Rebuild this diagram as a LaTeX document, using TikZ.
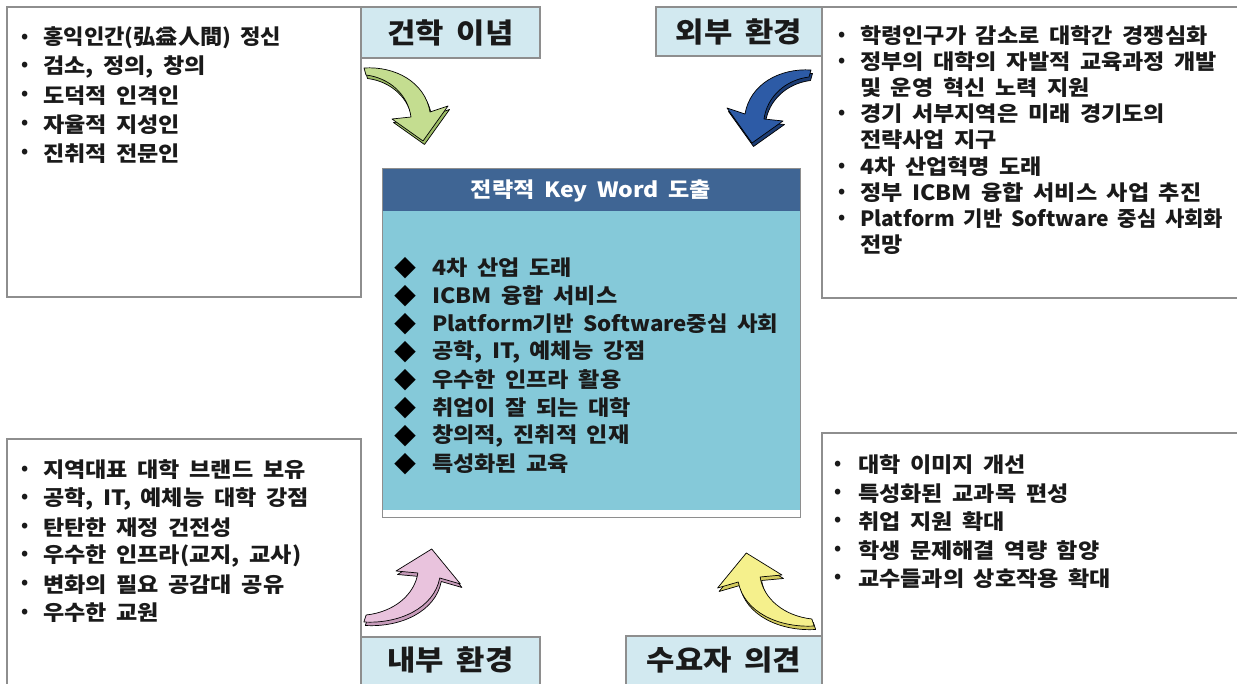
\documentclass[tikz,border=0pt]{standalone}
\usepackage{fontspec}
\usepackage{graphicx}
\setmainfont{Noto Sans CJK KR}[FakeStretch=1.1, WordSpace=1.8]
\newfontfamily\symfont{Noto Sans CJK KR}
\definecolor{hdrfill}{HTML}{D2E9F0}
\definecolor{boxline}{HTML}{8E8E8E}
\definecolor{cdark}{HTML}{3F6594}
\definecolor{cbody}{HTML}{85C9D9}
\definecolor{textc}{HTML}{1A1A1A}
\definecolor{agreen}{HTML}{C4DD90}
\definecolor{agreenS}{HTML}{9DBD66}
\definecolor{ablue}{HTML}{2D5BA6}
\definecolor{ablueS}{HTML}{1C3C74}
\definecolor{apink}{HTML}{E9C3DD}
\definecolor{apinkS}{HTML}{C79BBA}
\definecolor{ayellow}{HTML}{F5F08C}
\definecolor{ayellowS}{HTML}{D3CB5E}
\newcommand\myarrowpath{(-1,-2) .. controls (30,-4) and (60,12) .. (65,42) -- (83,36) -- (58,71) -- (27,49) -- (46,47) .. controls (43,25) and (25,8) .. (1,5) -- cycle}
\newcommand\bentarrow[5]{%
  \begin{scope}[shift={(#1)}, shift={(1.5,3.5)}, xscale=#2, yscale=#3]
    \filldraw[fill=#5, draw=black, line width=0.7pt, line join=round] \myarrowpath;
  \end{scope}
  \begin{scope}[shift={(#1)}, xscale=#2, yscale=#3]
    \filldraw[fill=#4, draw=black, line width=0.7pt, line join=round] \myarrowpath;
  \end{scope}}
\tikzset{
  bx/.style={draw=boxline, line width=1.1pt},
  hdrbox/.style={draw=boxline, fill=hdrfill, line width=1.1pt},
  hdrtxt/.style={inner sep=0pt, text=textc, font=\bfseries\fontsize{28}{32}\selectfont},
  txt/.style={anchor=west, inner sep=0pt, text=textc, font=\bfseries\fontsize{21}{24}\selectfont},
  bul/.style={inner sep=0pt, text=textc, font=\symfont\bfseries\fontsize{18}{20}\selectfont},
  dia/.style={inner sep=0pt, text=black, font=\symfont\fontsize{22}{24}\selectfont}
}
\begin{document}
\begin{tikzpicture}[x=1pt,y=-1pt]
\clip (0,0) rectangle (1237,684);
\fill[white] (0,0) rectangle (1237,684);

% outer text boxes
\draw[bx] (7,7) rectangle (361,297);
\draw[bx] (822,7) rectangle (1245,298);
\draw[bx] (7,439) rectangle (361,700);
\draw[bx] (822,433) rectangle (1245,700);

% headers
\draw[hdrbox] (361,7) rectangle (540,58);
\node[hdrtxt] (h1) at (450.5,33) {건학 이념};
\draw[hdrbox] (656,7) rectangle (822,56);
\node[hdrtxt] (h2) at (739,32) {외부 환경};
\draw[hdrbox] (361,637) rectangle (540,700);
\node[hdrtxt] (h3) at (450.5,660) {내부 환경};
\draw[hdrbox] (626,636) rectangle (822,700);
\node[hdrtxt] (h4) at (724,660) {수요자 의견};

% centre box
\fill[white] (382,169) rectangle (800,517);
\fill[cdark] (382,169) rectangle (800,211);
\fill[cbody] (382,211) rectangle (800,510);
\draw[draw=boxline, line width=1pt] (382,169) rectangle (800,517);
\node[inner sep=0pt, text=white, font=\bfseries\fontsize{21}{24}\selectfont] (ctitle) at (591,191) {전략적 Key Word 도출};
\foreach \t [count=\i] in {4차 산업 도래, ICBM 융합 서비스, \scalebox{0.965}[1]{Platform기반 Software중심 사회}, {공학, IT, 예체능 강점}, 우수한 인프라 활용, 취업이 잘 되는 대학, {창의적, 진취적 인재}, 특성화된 교육}{
  \node[dia] (cd\i) at (405,{268+28*(\i-1)}) {◆};
  \node[txt] (ct\i) at (432,{268+28*(\i-1)}) {\t};
}

% top-left list
\foreach \t [count=\i] in {\scalebox{0.96}[1]{홍익인간(弘益人間) 정신}, {검소, 정의, 창의}, 도덕적 인격인, 자율적 지성인, 진취적 전문인}{
  \node[bul] (tlb\i) at (25,{38+28.8*(\i-1)}) {•};
  \node[txt] (tlt\i) at (43,{38+28.8*(\i-1)}) {\t};
}

% top-right list
\node[bul] (trb1) at (842,36) {•};
\node[txt] (trt1) at (860,36) {학령인구가 감소로 대학간 경쟁심화};
\node[bul] (trb2) at (842,62) {•};
\node[txt] (trt2) at (860,62) {정부의 대학의 자발적 교육과정 개발};
\node[txt] (trt3) at (860,88) {및 운영 혁신 노력 지원};
\node[bul] (trb4) at (842,114) {•};
\node[txt] (trt4) at (860,114) {경기 서부지역은 미래 경기도의};
\node[txt] (trt5) at (860,140) {전략사업 지구};
\node[bul] (trb6) at (842,167) {•};
\node[txt] (trt6) at (860,167) {4차 산업혁명 도래};
\node[bul] (trb7) at (842,193) {•};
\node[txt] (trt7) at (860,193) {정부 ICBM 융합 서비스 사업 추진};
\node[bul] (trb8) at (842,219) {•};
\node[txt] (trt8) at (860,219) {\scalebox{0.91}[1]{Platform 기반 Software 중심 사회화}};
\node[txt] (trt9) at (860,245) {전망};

% bottom-left list
\foreach \t [count=\i] in {지역대표 대학 브랜드 보유, {공학, IT, 예체능 대학 강점}, 탄탄한 재정 건전성, {우수한 인프라(교지, 교사)}, 변화의 필요 공감대 공유, 우수한 교원}{
  \node[bul] (blb\i) at (25,{470+28.6*(\i-1)}) {•};
  \node[txt] (blt\i) at (43,{470+28.6*(\i-1)}) {\t};
}

% bottom-right list
\foreach \t [count=\i] in {대학 이미지 개선, 특성화된 교과목 편성, 취업 지원 확대, 학생 문제해결 역량 함양, 교수들과의 상호작용 확대}{
  \node[bul] (brb\i) at (838,{465+28.4*(\i-1)}) {•};
  \node[txt] (brt\i) at (858,{465+28.4*(\i-1)}) {\t};
}

% curved 3D arrows
\bentarrow{365,70}{1}{1}{agreen}{agreenS}
\bentarrow{810,72}{-1}{1}{ablue}{ablueS}
\bentarrow{365,620}{1.15}{-1}{apink}{apinkS}
\bentarrow{813,624}{-1.15}{-1}{ayellow}{ayellowS}
\end{tikzpicture}
\end{document}
